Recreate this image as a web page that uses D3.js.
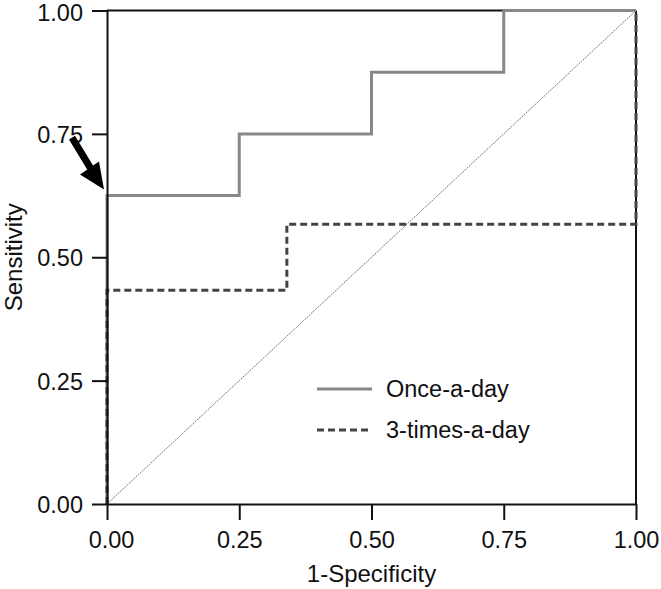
<!DOCTYPE html>
<html><head><meta charset="utf-8">
<script src="https://cdn.jsdelivr.net/npm/d3@7"></script>
<style>body{margin:0;background:#fff}svg{display:block}text{font-family:"Liberation Sans",Arial,sans-serif}</style>
</head><body><svg id="c" width="661" height="589"></svg>
<script>
const ticks = [0, 0.25, 0.5, 0.75, 1];
const tickLabels = ["0.00", "0.25", "0.50", "0.75", "1.00"];
const onceX = [0, 0, 0.25, 0.25, 0.5, 0.5, 0.75, 0.75, 1];
const onceY = [0, 0.625, 0.625, 0.75, 0.75, 0.875, 0.875, 1, 1];
const threeX = [0, 0, 0.34, 0.34, 1, 1];
const threeY = [0, 0.433, 0.433, 0.567, 0.567, 1];
const seriesNames = ["Once-a-day", "3-times-a-day"];

const svg = d3.select("#c");
const L = 107, R = 636, T = 10.5, B = 504;
const x = d3.scaleLinear().domain([0, 1]).range([L, R]);
const y = d3.scaleLinear().domain([0, 1]).range([B, T]);

svg.append("line").attr("x1", L).attr("x2", R).attr("y1", T).attr("y2", T).attr("stroke", "#111").attr("stroke-width", 2);
svg.append("line").attr("x1", R).attr("x2", R).attr("y1", T).attr("y2", B).attr("stroke", "#111").attr("stroke-width", 2);

svg.append("line").attr("x1", x(0)).attr("y1", y(0)).attr("x2", x(1)).attr("y2", y(1))
  .attr("stroke", "#777").attr("stroke-width", 1).attr("stroke-dasharray", "2,1");

const line = d3.line().x(d => x(d[0])).y(d => y(d[1]));
svg.append("path").datum(onceX.map((v, i) => [v, onceY[i]])).attr("d", line)
  .attr("fill", "none").attr("stroke", "#888").attr("stroke-width", 3);
svg.append("path").datum(threeX.map((v, i) => [v, threeY[i]])).attr("d", line)
  .attr("fill", "none").attr("stroke", "#444").attr("stroke-width", 3).attr("stroke-dasharray", "7,4");

const xAxis = d3.axisBottom(x).tickValues(ticks).tickFormat((d, i) => tickLabels[i]).tickSize(16).tickPadding(11).tickSizeOuter(0);
const yAxis = d3.axisLeft(y).tickValues(ticks).tickFormat((d, i) => tickLabels[i]).tickSize(15).tickPadding(9).tickSizeOuter(0);
const gx = svg.append("g").attr("transform", `translate(0,${B})`).call(xAxis);
const gy = svg.append("g").attr("transform", `translate(${L},0)`).call(yAxis);
[gx, gy].forEach(g => {
  g.select(".domain").attr("stroke", "#111").attr("stroke-width", 2);
  g.selectAll(".tick line").attr("stroke", "#111").attr("stroke-width", 2);
  g.selectAll(".tick text").attr("font-size", 23.5).attr("fill", "#111").attr("font-family", '"Liberation Sans",Arial,sans-serif');
});
gy.selectAll(".tick text").attr("dy", "0.36em");
gy.selectAll(".tick text").filter((d, i) => i === ticks.length - 1).attr("dy", "0.42em");
gx.selectAll(".tick text").filter((d, i) => i === 0).attr("dx", 4);

svg.append("text").attr("x", (L + R) / 2).attr("y", 582).attr("text-anchor", "middle").attr("font-size", 24).attr("fill", "#111").text("1-Specificity");
svg.append("text").attr("transform", `translate(22,${(T + B) / 2}) rotate(-90)`).attr("text-anchor", "middle").attr("font-size", 24).attr("fill", "#111").text("Sensitivity");

const lg = svg.append("g");
const legY = [389, 430];
lg.append("line").attr("x1", 317).attr("x2", 372).attr("y1", legY[0]).attr("y2", legY[0]).attr("stroke", "#888").attr("stroke-width", 3);
lg.append("line").attr("x1", 317).attr("x2", 372).attr("y1", legY[1]).attr("y2", legY[1]).attr("stroke", "#444").attr("stroke-width", 3).attr("stroke-dasharray", "7,4");
seriesNames.forEach((n, i) => lg.append("text").attr("x", 386).attr("y", legY[i]).attr("dy", "0.36em").attr("font-size", 23.5).attr("fill", "#111").text(n));

const tipX = x(0) - 3, tipY = y(0.625) - 6;
svg.append("line").attr("x1", tipX - 32).attr("y1", tipY - 52).attr("x2", tipX - 12).attr("y2", tipY - 19)
  .attr("stroke", "#000").attr("stroke-width", 7);
svg.append("path").attr("d", `M${tipX},${tipY} L${tipX - 24},${tipY - 15} L${tipX - 5},${tipY - 28} Z`).attr("fill", "#000");
</script></body></html>
